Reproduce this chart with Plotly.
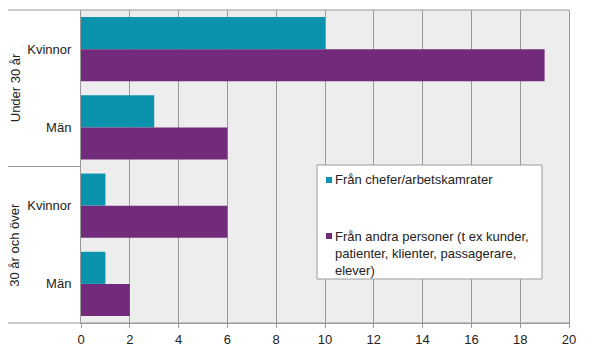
import plotly.graph_objects as go

categories = ["Kvinnor", "Män", "Kvinnor", "Män"]
groups = ["Under 30 år", "30 år och över"]
series_names = ["Från chefer/arbetskamrater",
                "Från andra personer (t ex kunder,<br>patienter, klienter, passagerare,<br>elever)"]
chefer = [10, 3, 1, 1]
andra = [19, 6, 6, 2]
x_ticks = [0, 2, 4, 6, 8, 10, 12, 14, 16, 18, 20]

TEAL = "#0993ad"
PURPLE = "#722a7b"
GRID = "#999999"
FONT = "Liberation Sans, Arial, sans-serif"
FS = 13

ypos = list(range(len(categories)))

fig = go.Figure()
fig.add_trace(go.Bar(y=ypos, x=chefer, orientation="h", marker_color=TEAL,
                     marker_line_width=0, name=series_names[0], showlegend=False))
fig.add_trace(go.Bar(y=ypos, x=andra, orientation="h", marker_color=PURPLE,
                     marker_line_width=0, name=series_names[1], showlegend=False))

# page body has an 8px default margin: figure coords = screen coords - 8
OFF = 8
W, H = 600 - 2 * OFF, 360 - 2 * OFF
PL, PR, PT, PB = 81, 569, 10, 323  # plot area in screen pixels
L, T = PL - OFF, PT - OFF
R, B = W - (PR - OFF), H - (PB - OFF)
pw, ph = PR - PL, PB - PT

def px(x):
    return (x - PL) / pw

def py(y):
    return (PB - y) / ph

shapes = []
shapes.append(dict(type="line", xref="paper", yref="paper", x0=px(OFF), x1=1, y0=1, y1=1,
                   line=dict(color=GRID, width=1)))
shapes.append(dict(type="line", xref="paper", yref="paper", x0=px(OFF), x1=0, y0=0.5, y1=0.5,
                   line=dict(color=GRID, width=1)))
shapes.append(dict(type="line", xref="paper", yref="paper", x0=px(OFF), x1=1, y0=0, y1=0,
                   line=dict(color=GRID, width=1)))
# legend box
shapes.append(dict(type="rect", xref="paper", yref="paper", x0=px(317), x1=px(542),
                   y0=py(279), y1=py(165), fillcolor="white", line=dict(color=GRID, width=1),
                   layer="above"))
shapes.append(dict(type="rect", xref="paper", yref="paper", x0=px(326), x1=px(332),
                   y0=py(183), y1=py(177), fillcolor=TEAL, line=dict(width=0), layer="above"))
shapes.append(dict(type="rect", xref="paper", yref="paper", x0=px(326), x1=px(332),
                   y0=py(239), y1=py(233), fillcolor=PURPLE, line=dict(width=0), layer="above"))

annotations = [
    dict(text=groups[0], xref="paper", yref="paper", x=px(15), y=0.75, textangle=-90,
         xanchor="center", yanchor="middle",
         showarrow=False, font=dict(size=FS, color="#222", family=FONT)),
    dict(text=groups[1], xref="paper", yref="paper", x=px(15), y=0.25, textangle=-90,
         xanchor="center", yanchor="middle",
         showarrow=False, font=dict(size=FS, color="#222", family=FONT)),
    dict(text=series_names[0], xref="paper", yref="paper", x=px(333), y=py(180),
         xanchor="left", yanchor="middle", showarrow=False, align="left",
         font=dict(size=FS, color="#222", family=FONT)),
    dict(text=series_names[1], xref="paper", yref="paper", x=px(333), y=py(227),
         xanchor="left", yanchor="top", showarrow=False, align="left",
         font=dict(size=FS, color="#222", family=FONT)),
]

fig.update_layout(
    width=W, height=H,
    margin=dict(l=L, r=R, t=T, b=B, pad=0),
    paper_bgcolor="white",
    plot_bgcolor="#ededed",
    barmode="group", bargap=0.18, bargroupgap=0,
    font=dict(family=FONT, size=FS, color="#222"),
    shapes=shapes, annotations=annotations,
    showlegend=False,
    xaxis=dict(range=[0, 20], tickvals=x_ticks, showgrid=True, gridcolor=GRID, gridwidth=1,
               showline=True, linecolor=GRID, linewidth=1, ticks="outside", ticklen=4,
               tickcolor=GRID, zeroline=False, fixedrange=True, automargin=False),
    yaxis=dict(range=[3.5, -0.5], tickvals=ypos, ticktext=categories, showgrid=False,
               showline=True, linecolor=GRID, linewidth=1, mirror=True, ticks="outside",
               ticklen=6, tickcolor="rgba(0,0,0,0)", zeroline=False, fixedrange=True,
               automargin=False),
)

fig.write_html("out.html")
